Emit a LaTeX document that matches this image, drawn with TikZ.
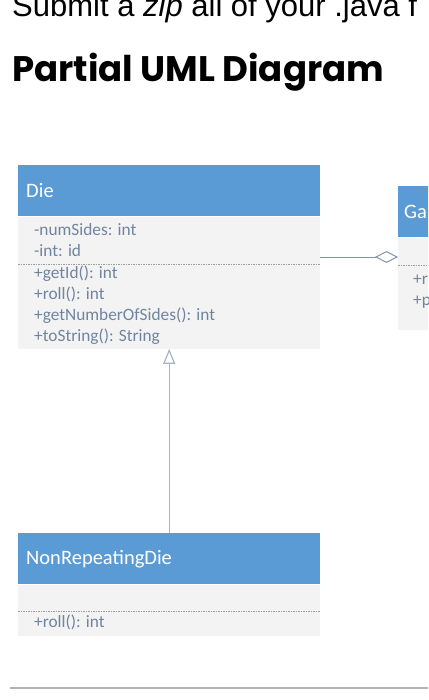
\documentclass[tikz,border=0pt]{standalone}
\usepackage{fontspec}
\setmainfont{Carlito}
\newfontfamily\promptfont{Liberation Sans}
\newfontfamily\titlefont{Poppins}
\usepackage{tikz}
\usetikzlibrary{arrows.meta, positioning}

\definecolor{umlblue}{RGB}{91,155,213}
\definecolor{umlbody}{RGB}{243,243,243}
\definecolor{umltext}{RGB}{112,132,160}
\definecolor{umlline}{RGB}{165,180,202}
\definecolor{aggline}{RGB}{128,148,176}

\tikzset{
  head/.style={rectangle, fill=umlblue, text=white, font=\fontsize{20.5}{24}\selectfont,
               minimum height=51pt, text width=286pt, inner xsep=8pt, inner ysep=0pt,
               align=left, anchor=north west},
  body/.style={rectangle, fill=umlbody, minimum width=302pt, minimum height=#1,
               inner sep=0pt, anchor=north west},
  members/.style={text=umltext, font=\fontsize{17.3}{21}\selectfont, align=left,
                  inner sep=0pt, anchor=north west},
  sep/.style={draw=gray!75, dash pattern=on 1.5pt off 1pt, line width=0.7pt}
}

\begin{document}
\begin{tikzpicture}[x=1pt, y=-1pt]
\clip (0,0) rectangle (428,700);

% heading of the page
\node[anchor=base west, inner sep=0pt, font=\promptfont\fontsize{31}{36}\selectfont] (prompt) at (12,17) {Submit a \textit{zip} all of your .java f};
\node[anchor=base west, inner sep=0pt, font=\titlefont\bfseries\fontsize{35.5}{42}\selectfont] (title) at (12,82) {Partial UML Diagram};

% class Die
\node[head] (Die) at (18,165) {Die};
\node[body=132pt] (DieBody) at (Die.south west) {};
\node[members] (DieAttr) at (34,223) {-numSides: int\\-int: id};
\draw[sep] (DieBody.west |- 0,264) -- (DieBody.east |- 0,264);
\node[members] (DieOps) at (34,266) {+getId(): int\\+roll(): int\\+getNumberOfSides(): int\\+toString(): String};

% class at the right edge
\node[head, text width=88pt, inner xsep=6pt] (Ga) at (398,186) {Ga};
\node[body=92pt, minimum width=100pt] (GaBody) at (Ga.south west) {};
\draw[sep] (GaBody.west |- 0,265) -- (GaBody.east |- 0,265);
\node[members] (GaOps) at (413,275) {+r\\+p};

% class NonRepeatingDie
\node[head] (NRD) at (18,533) {NonRepeatingDie};
\node[body=51pt] (NRDBody) at (NRD.south west) {};
\draw[sep] (NRDBody.west |- 0,611) -- (NRDBody.east |- 0,611);
\node[members] (NRDOps) at (34,615) {+roll(): int};

% connectors
\coordinate (aggS) at (DieBody.east |- 0,257);
\coordinate (aggE) at (GaBody.west |- 0,257);
\draw[aggline, line width=1pt, -{Diamond[open, length=23pt, width=12pt]}] (aggS) -- (aggE);
\draw[umlline, line width=1.2pt, -{Triangle[open, length=15pt, width=12pt]}] (NRD.north) -- (DieBody.south);

% rule at the bottom
\draw[gray!60, line width=1.2pt] (10,688) -- (428,688);
\end{tikzpicture}
\end{document}
